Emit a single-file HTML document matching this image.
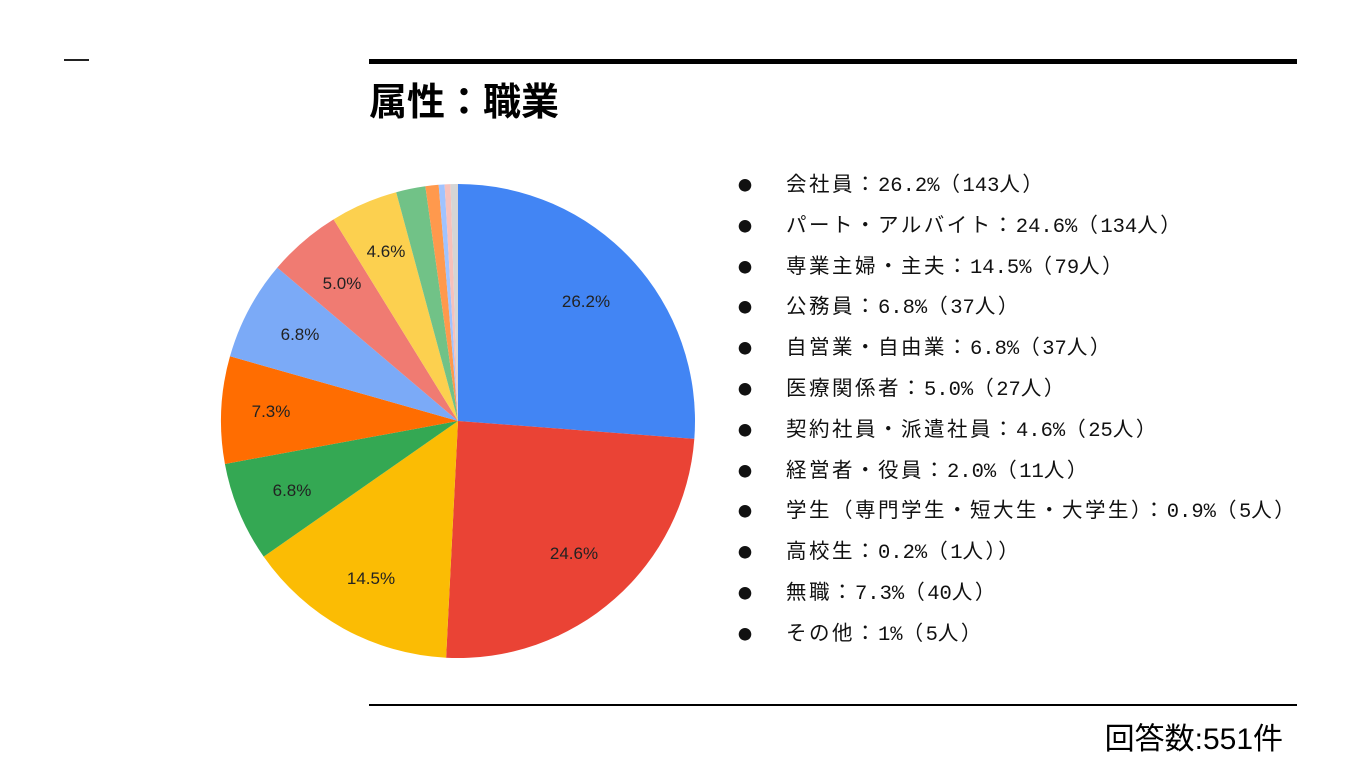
<!DOCTYPE html>
<html><head><meta charset="utf-8"><style>
body{margin:0;width:1360px;height:765px;background:#fff;position:relative;font-family:"Liberation Sans","Noto Sans CJK JP",sans-serif;overflow:hidden}
.a{position:absolute}
.leg{position:absolute;left:738px;top:168px;font-size:20.5px;letter-spacing:2.5px;color:#111;font-family:"Noto Sans CJK JP",sans-serif}
.leg div{height:40.8px;line-height:28px;white-space:nowrap}
.leg b{display:inline-block;width:48px;font-size:14px;font-weight:normal;letter-spacing:0}
.leg i{font-style:normal;font-family:"Liberation Mono",monospace;font-size:20.5px;letter-spacing:0}
</style></head><body>
<div class="a" style="left:64px;top:59px;width:25px;height:2px;background:#222"></div>
<div class="a" style="left:369px;top:59px;width:928px;height:5px;background:#000"></div>
<div class="a" style="left:369px;top:75px;font-size:38px;font-weight:bold;font-family:'Noto Sans CJK JP',sans-serif;line-height:48px">属性：職業</div>
<div class="a" style="left:369px;top:704px;width:928px;height:2px;background:#000"></div>
<div class="a" style="right:77px;top:720px;font-size:30px;font-family:'Liberation Sans','Noto Sans CJK JP',sans-serif;line-height:40px">回答数:551件</div>
<svg class="a" style="left:0;top:0" width="1360" height="765" id="s"></svg>
<div class="leg">
<div><b>●</b>会社員：<i>26.2%</i>（<i>143</i>人）</div>
<div><b>●</b>パート・アルバイト：<i>24.6%</i>（<i>134</i>人）</div>
<div><b>●</b>専業主婦・主夫：<i>14.5%</i>（<i>79</i>人）</div>
<div><b>●</b>公務員：<i>6.8%</i>（<i>37</i>人）</div>
<div><b>●</b>自営業・自由業：<i>6.8%</i>（<i>37</i>人）</div>
<div><b>●</b>医療関係者：<i>5.0%</i>（<i>27</i>人）</div>
<div><b>●</b>契約社員・派遣社員：<i>4.6%</i>（<i>25</i>人）</div>
<div><b>●</b>経営者・役員：<i>2.0%</i>（<i>11</i>人）</div>
<div><b>●</b>学生（専門学生・短大生・大学生）：<i>0.9%</i>（<i>5</i>人）</div>
<div><b>●</b>高校生：<i>0.2%</i>（<i>1</i>人））</div>
<div><b>●</b>無職：<i>7.3%</i>（<i>40</i>人）</div>
<div><b>●</b>その他：<i>1%</i>（<i>5</i>人）</div>
</div>
<script>
var d=[[26.2,"#4285f4"],[24.6,"#ea4335"],[14.5,"#fbbc04"],[6.8,"#34a853"],[7.3,"#ff6d01"],[6.8,"#7baaf7"],[5.0,"#f07b72"],[4.6,"#fcd04f"],[2.0,"#71c287"],[0.9,"#ff994d"],[0.4,"#a0c3ff"],[0.4,"#f7c1bb"],[0.5,"#d5d5d5"]];
var cx=458,cy=421,r=237,a=0,h="",tot=0;d.forEach(x=>tot+=x[0]);
d.forEach(x=>{var b=a+x[0]/tot*2*Math.PI;
var p=t=>[cx+r*Math.sin(t),cy-r*Math.cos(t)];var s=p(a),e=p(b);
h+=`<path d="M${cx},${cy}L${s[0]},${s[1]}A${r},${r} 0 ${b-a>Math.PI?1:0} 1 ${e[0]},${e[1]}Z" fill="${x[1]}"/>`;a=b;});
[[586,301,"26.2%"],[574,553,"24.6%"],[371,578,"14.5%"],[292,490,"6.8%"],[271,411,"7.3%"],[300,334,"6.8%"],[342,283,"5.0%"],[386,251,"4.6%"]].forEach(l=>{h+=`<text x="${l[0]}" y="${l[1]+6}" text-anchor="middle" font-size="17" fill="#222" font-family="Liberation Sans,sans-serif">${l[2]}</text>`});
document.getElementById("s").innerHTML=h;
</script>
</body></html>
